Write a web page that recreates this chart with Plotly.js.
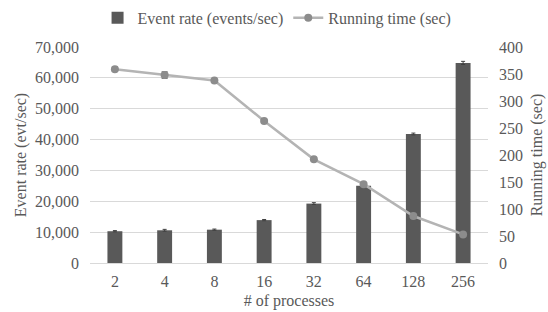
<!DOCTYPE html>
<html><head><meta charset="utf-8">
<script src="https://cdn.plot.ly/plotly-3.0.1.min.js"></script>
<style>body{margin:0;background:#fff}#c{width:548px;height:312px}</style>
</head><body><div id="c"></div>
<script>
const categories = ["2","4","8","16","32","64","128","256"];
const eventRate = [10300, 10600, 10800, 13900, 19250, 25000, 41800, 64850];
const eventRateErr = [200, 300, 200, 200, 300, 300, 300, 500];
const runningTime = [359, 348, 338, 263, 192, 146, 87, 53];
const runningTimeErr = [4, 6, 2, 2, 2, 2, 2, 2];
const leftTicks = [0,10000,20000,30000,40000,50000,60000,70000];
const rightTicks = [0,50,100,150,200,250,300,350,400];

const font = {family: '"Liberation Serif", serif', size: 16, color: "#595959"};
const data = [
  {type:"bar", x:categories, y:eventRate, name:"Event rate (events/sec)",
   marker:{color:"#595959"}, width:0.3,
   error_y:{type:"data", array:eventRateErr, color:"#404040", thickness:1, width:2}},
  {type:"scatter", mode:"lines+markers", x:categories, y:runningTime, yaxis:"y2",
   name:"Running time (sec)", line:{color:"#b4b4b4", width:2.5},
   marker:{color:"#8c8c8c", size:8},
   error_y:{type:"data", array:runningTimeErr, color:"#595959", thickness:1, width:3}}
];
const layout = {
  width:548, height:312, margin:{l:90, r:60, t:47, b:49, autoexpand:false},
  paper_bgcolor:"#fff", plot_bgcolor:"#fff", font:font, showlegend:true,
  legend:{orientation:"h", x:0.47, xanchor:"center", y:1.135, yanchor:"middle", font:font, itemwidth:30},
  xaxis:{type:"category", tickfont:font, showgrid:false, showline:true, linecolor:"#d9d9d9",
    ticks:"", ticklabelstandoff:4, title:{text:"# of processes", font:font, standoff:5}},
  yaxis:{range:[0,70000], tickvals:leftTicks, tickformat:",d", gridcolor:"#d9d9d9", zeroline:false,
    tickfont:font, ticks:"", ticklabelstandoff:10, title:{text:"Event rate (evt/sec)", font:font, standoff:4}},
  yaxis2:{range:[0,400], tickvals:rightTicks, overlaying:"y", side:"right", showgrid:false, zeroline:false,
    tickfont:font, ticks:"", ticklabelstandoff:10, title:{text:"Running time (sec)", font:font, standoff:8}}
};
Plotly.newPlot("c", data, layout, {displayModeBar:false, staticPlot:true});
</script></body></html>
